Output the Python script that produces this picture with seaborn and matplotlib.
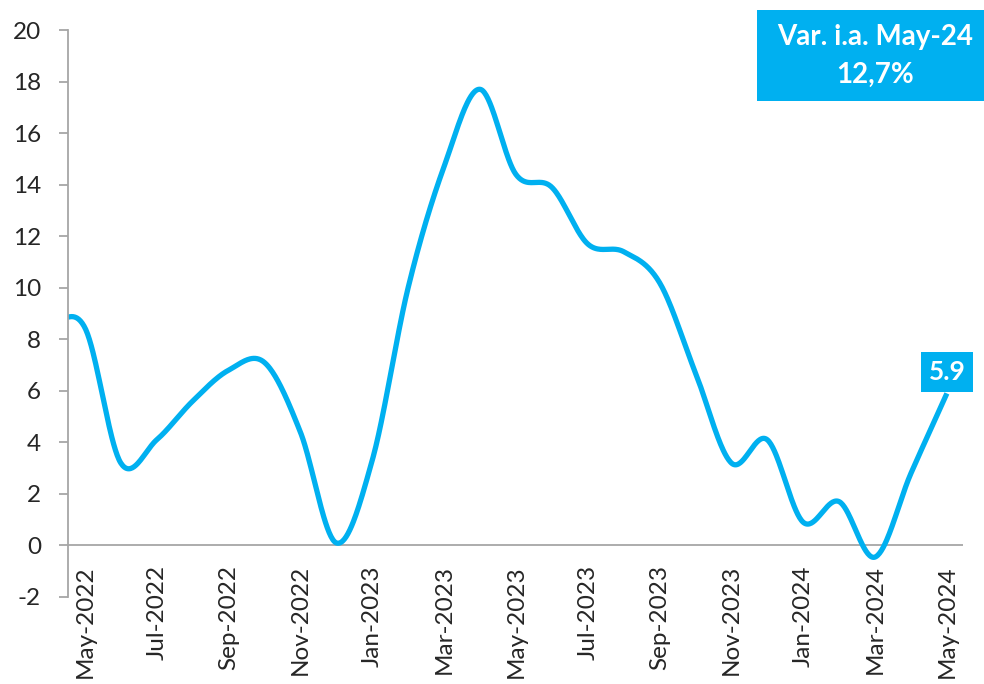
import numpy as np
import pandas as pd
import matplotlib.pyplot as plt
import seaborn as sns
from matplotlib.patches import Rectangle

# monthly values (first month sits partly outside the axis)
months = ['Apr-2022', 'May-2022', 'Jun-2022', 'Jul-2022', 'Aug-2022', 'Sep-2022',
          'Oct-2022', 'Nov-2022', 'Dec-2022', 'Jan-2023', 'Feb-2023', 'Mar-2023',
          'Apr-2023', 'May-2023', 'Jun-2023', 'Jul-2023', 'Aug-2023', 'Sep-2023',
          'Oct-2023', 'Nov-2023', 'Dec-2023', 'Jan-2024', 'Feb-2024', 'Mar-2024',
          'Apr-2024', 'May-2024']
values = [8.6, 8.45, 3.2, 4.1, 5.6, 6.8,
          7.1, 4.4, 0.1, 3.3, 10.0, 14.7,
          17.7, 14.4, 13.9, 11.7, 11.4, 10.2,
          6.7, 3.2, 4.1, 0.9, 1.7, -0.45,
          2.8, 5.9]
tick_labels = ['May-2022', 'Jul-2022', 'Sep-2022', 'Nov-2022', 'Jan-2023',
               'Mar-2023', 'May-2023', 'Jul-2023', 'Sep-2023', 'Nov-2023',
               'Jan-2024', 'Mar-2024', 'May-2024']
box_title = 'Var. i.a. May-24'
box_value = '12,7%'

BLUE = '#00B0F0'
GREY = '#A6A6A6'


def smooth(x, y, n=40):
    '''Catmull-Rom smoothing, like the "smoothed line" option in Excel'''
    y = np.asarray(y, dtype=float)
    tang = np.gradient(y)
    xs, ys = [], []
    for i in range(len(y) - 1):
        t = np.linspace(0, 1, n, endpoint=False)
        h00 = 2 * t**3 - 3 * t**2 + 1
        h10 = t**3 - 2 * t**2 + t
        h01 = -2 * t**3 + 3 * t**2
        h11 = t**3 - t**2
        ys.append(h00 * y[i] + h10 * tang[i] + h01 * y[i + 1] + h11 * tang[i + 1])
        xs.append(x[i] + t * (x[i + 1] - x[i]))
    xs.append([x[-1]])
    ys.append([y[-1]])
    return np.concatenate(xs), np.concatenate(ys)


sns.set_style('white')
plt.rcParams['font.family'] = ['Lato', 'DejaVu Sans']

df = pd.DataFrame({'month': months, 'value': values})
df['pos'] = np.arange(len(df)) - 1   # May-2022 -> 0

xs, ys = smooth(df.pos.values, df.value.values)

fig = plt.figure(figsize=(9.84, 6.84), dpi=100)
ax = fig.add_axes([0.0691, 0.1272, 0.9096, 0.8289])

sns.lineplot(x=xs, y=ys, ax=ax, color=BLUE, linewidth=3.8, sort=False,
             estimator=None, solid_capstyle='butt')

ax.set_xlim(-0.47, 24.45)
ax.set_ylim(-2, 20)
ax.set_yticks(np.arange(-2, 21, 2))
ax.set_yticklabels([str(v) for v in range(-2, 21, 2)], fontsize=17.5)

tick_pos = [df.pos[df.month == lab].iloc[0] for lab in tick_labels]
ax.set_xticks(tick_pos)
ax.set_xticklabels(tick_labels, rotation=90, fontsize=17.5)

ax.axhline(0, color=GREY, linewidth=1.3, zorder=1)
for side in ['top', 'right', 'bottom']:
    ax.spines[side].set_visible(False)
ax.spines['left'].set_color(GREY)
ax.spines['left'].set_linewidth(1.3)
ax.tick_params(axis='y', left=True, length=6.5, width=1.3, color=GREY, pad=13)
ax.tick_params(axis='x', bottom=False, length=0, pad=-23)
ax.grid(False)

# label on the last point
last = df.iloc[-1]
ax.annotate(f'{last.value:.1f}', xy=(last.pos, last.value), xytext=(0, 15.5),
            textcoords='offset points', ha='center', va='center',
            fontsize=19, fontweight='bold', color='white',
            bbox=dict(boxstyle='square,pad=0.3', fc=BLUE, ec='none'))

# box in the top right corner
fig.patches.append(Rectangle((0.7693, 0.8523), 0.2307, 0.1330,
                             transform=fig.transFigure, facecolor=BLUE,
                             edgecolor='none', zorder=5))
fig.text(0.8892, 0.9459, box_title, ha='center', va='center', fontsize=20,
         fontweight='bold', color='white', zorder=6)
fig.text(0.8892, 0.8904, box_value, ha='center', va='center', fontsize=20,
         fontweight='bold', color='white', zorder=6)

plt.savefig('out.png', dpi=100)
